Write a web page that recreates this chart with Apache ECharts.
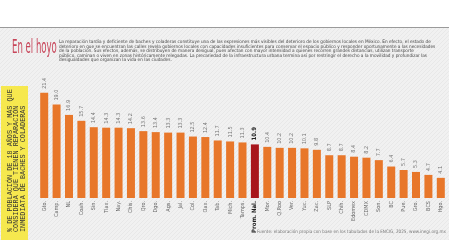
<!DOCTYPE html>
<html>
<head>
<meta charset="utf-8">
<script src="https://cdn.jsdelivr.net/npm/echarts@6/dist/echarts.min.js"></script>
<style>
  html, body { margin: 0; padding: 0; background: #fff; }
  #hoyo { width: 449px; height: 252px; }
</style>
</head>
<body>
<div id="hoyo"></div>
<script>
var categories = ['Gto.', 'Camp.', 'NL', 'Coah.', 'Sin.', 'Tlax.', 'Nay.', 'Chis.', 'Qro.', 'Dgo.', 'Ags.', 'Jal.', 'Col.', 'Oax.', 'Tab.', 'Mich.', 'Tamps.', 'Prom. Nal.', 'Mor.', 'Q.Roo', 'Ver.', 'Yuc.', 'Zac.', 'SLP', 'Chih.', 'Edomex', 'CDMX', 'Son.', 'BC', 'Pue.', 'Gro.', 'BCS', 'Hgo.'];
var values = [21.4, 19.0, 16.9, 15.7, 14.4, 14.3, 14.3, 14.2, 13.6, 13.4, 13.3, 13.3, 12.5, 12.4, 11.7, 11.5, 11.3, 10.9, 10.4, 10.2, 10.2, 10.1, 9.8, 8.7, 8.7, 8.4, 8.2, 7.7, 6.4, 5.7, 5.3, 4.7, 4.1];
var highlight = 'Prom. Nal.';
var titleText = 'En el hoyo';
var introLines = [
    'La reparación tardía y deficiente de baches y coladeras constituye una de las expresiones más visibles del deterioro de los gobiernos locales en México. En efecto, el estado de',
    'deterioro en que se encuentran las calles revela gobiernos locales con capacidades insuficientes para conservar el espacio público y responder oportunamente a las necesidades',
    'de la población. Sus efectos, además, se distribuyen de manera desigual, pues afectan con mayor intensidad a quienes recorren grandes distancias, utilizan transporte',
    'público, caminan o viven en zonas históricamente relegadas. La precariedad de la infraestructura urbana termina así por restringir el derecho a la movilidad y profundizar las',
    'desigualdades que organizan la vida en las ciudades.'
];
var axisTitle = ['% DE POBLACIÓN DE 18 AÑOS Y MÁS QUE', 'CONSIDERA QUE TIENEN REPARACIÓN', 'INMEDIATA DE BACHES Y COLADERAS'];
var sourceText = 'Fuente: elaboración propia con base en los tabulados de la ENCIG, 2025, www.inegi.org.mx';

var narrow = "'Liberation Sans Narrow', 'DejaVu Sans Condensed', sans-serif";

// hatch pattern for the grey panel
var hatch = document.createElement('canvas');
hatch.width = 4;
hatch.height = 4;
var hc = hatch.getContext('2d');
hc.fillStyle = '#f1f1f1';
hc.fillRect(0, 0, 4, 4);
hc.strokeStyle = '#e8e8e8';
hc.lineWidth = 1;
hc.beginPath();
hc.moveTo(0, 4);
hc.lineTo(4, 0);
hc.stroke();

var chart = echarts.init(document.getElementById('hoyo'));

var barData = values.map(function (v, i) {
    if (categories[i] === highlight) {
        return {
            value: v,
            itemStyle: { color: '#a8161c' },
            label: { fontWeight: 'bold', color: '#222', fontSize: 6 }
        };
    }
    return v;
});

var catData = categories.map(function (c) {
    if (c === highlight) {
        return { value: c, textStyle: { fontWeight: 'bold', color: '#222', fontSize: 6 } };
    }
    return c;
});

var option = {
    animation: false,
    backgroundColor: '#fff',
    textStyle: { fontFamily: narrow },
    graphic: [
        { type: 'rect', shape: { x: 0, y: 28, width: 449, height: 212 }, style: { fill: { image: hatch, repeat: 'repeat' } }, z: -10 },
        { type: 'line', shape: { x1: 0, y1: 27.5, x2: 449, y2: 27.5 }, style: { stroke: '#9a9a9a', lineWidth: 1 } },
        {
            type: 'text', x: 12, y: 39, scaleX: 0.5,
            style: { text: titleText, fill: '#c8465a', font: '300 19px ' + narrow }
        },
        {
            type: 'text', x: 59, y: 40,
            style: { text: introLines.join('\n'), fill: '#444', font: '4.7px ' + narrow, lineHeight: 4.4 }
        },
        { type: 'rect', shape: { x: 1, y: 86, width: 27, height: 154 }, style: { fill: '#f6e84e' } },
        {
            type: 'text', x: 7, y: 232, rotation: Math.PI / 2,
            style: {
                text: axisTitle.join('\n'), fill: '#333',
                font: '6.8px "Liberation Mono", "DejaVu Sans Mono", monospace',
                lineHeight: 6.4, align: 'left', verticalAlign: 'top'
            }
        },
        {
            type: 'text', right: 3, top: 229,
            style: { text: sourceText, fill: '#777', font: '4.6px ' + narrow }
        }
    ],
    grid: { left: 38, right: 2, top: 80, bottom: 54 },
    xAxis: {
        type: 'category',
        data: catData,
        axisLine: { show: false },
        axisTick: { show: false },
        axisLabel: { rotate: 90, fontSize: 5.5, color: '#6a6a6a', margin: 3, interval: 0, fontFamily: narrow }
    },
    yAxis: {
        type: 'value',
        min: 0,
        max: 24,
        show: false
    },
    series: [{
        type: 'bar',
        data: barData,
        barWidth: 8,
        itemStyle: { color: '#e8772a' },
        label: {
            show: true,
            position: 'top',
            rotate: 90,
            align: 'left',
            verticalAlign: 'middle',
            distance: 4,
            fontSize: 5.5,
            color: '#777',
            fontFamily: narrow,
            formatter: function (p) { return p.value.toFixed(1); }
        }
    }]
};

chart.setOption(option);
</script>
</body>
</html>
